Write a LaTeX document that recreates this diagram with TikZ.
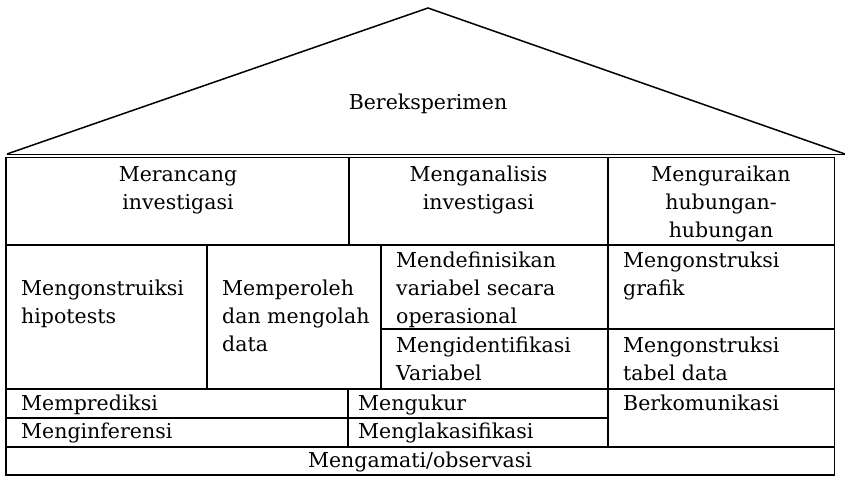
\documentclass[tikz,border=0pt]{standalone}
\usepackage{fontspec}
\setmainfont{DejaVu Serif}
\begin{document}
\begin{tikzpicture}[x=1pt,y=-1pt,
  txt/.style={font=\fontsize{20.5}{28}\selectfont, inner sep=0pt, align=left, anchor=west},
  ctxt/.style={font=\fontsize{20.5}{28}\selectfont, inner sep=0pt, align=center},
  grid/.style={line width=1.9pt},
  roof/.style={line width=1.5pt, line join=miter}]
\useasboundingbox (0,0) rectangle (845,476);
% roof
\coordinate (rl) at (7,154);
\coordinate (rt) at (428,8);
\coordinate (rr) at (845,154);
\draw[roof] (rl) -- (rt) -- (rr);
\draw[line width=1pt] (rl) -- (rr);
% table frame
\draw[grid] (6,157.5) rectangle (834.5,475);
\draw[grid] (6,245) -- (834.5,245);
\draw[grid] (6,389) -- (834.5,389);
\draw[grid] (6,447) -- (834.5,447);
\draw[grid] (381,329) -- (834.5,329);
\draw[grid] (6,418) -- (608,418);
\draw[grid] (349,157.5) -- (349,245);
\draw[grid] (608,157.5) -- (608,447);
\draw[grid] (207,245) -- (207,389);
\draw[grid] (381,245) -- (381,389);
\draw[grid] (348,389) -- (348,447);
% texts
\node[ctxt] (ber) at (428,104) {Bereksperimen\strut};
\node[ctxt] (mer) at (178,189.5) {Merancang\strut\\investigasi\strut};
\node[ctxt] (ana) at (478.5,189.5) {Menganalisis\strut\\investigasi\strut};
\node[ctxt] (ura) at (721,203.5) {Menguraikan\strut\\hubungan-\strut\\hubungan\strut};
\node[txt] (hip) at (21,304) {Mengonstruiksi\strut\\hipotests\strut};
\node[txt] (mpr) at (222,318) {Memperoleh\strut\\dan mengolah\strut\\data\strut};
\node[txt] (def) at (396,290) {Mendefinisikan\strut\\variabel secara\strut\\operasional\strut};
\node[txt] (gra) at (623,276) {Mengonstruksi\strut\\grafik\strut};
\node[txt] (idf) at (396,361) {Mengidentifikasi\strut\\Variabel\strut};
\node[txt] (tab) at (623,361) {Mengonstruksi\strut\\tabel data\strut};
\node[txt] (pre) at (21,405) {Memprediksi\strut};
\node[txt] (inf) at (21,433) {Menginferensi\strut};
\node[txt] (uku) at (358,405) {Mengukur\strut};
\node[txt] (kla) at (358,433) {Menglakasifikasi\strut};
\node[txt] (kom) at (623,405) {Berkomunikasi\strut};
\node[ctxt] (obs) at (420,462) {Mengamati/observasi\strut};
\end{tikzpicture}
\end{document}
